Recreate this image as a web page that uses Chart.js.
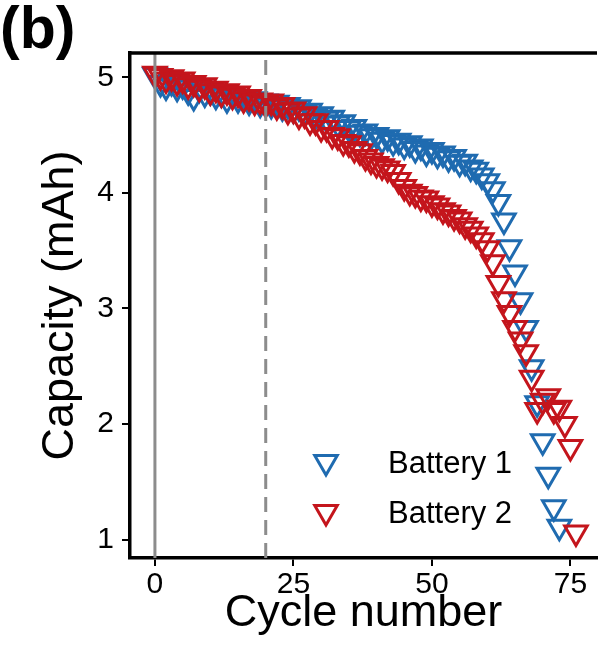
<!DOCTYPE html>
<html>
<head>
<meta charset="utf-8">
<script src="https://cdn.jsdelivr.net/npm/chart.js@4.4.1/dist/chart.umd.min.js"></script>
<style>
  html, body { margin: 0; padding: 0; background: #fff; overflow: hidden; }
  #wrap { width: 613px; height: 661px; position: relative; }
  canvas { display: block; }
</style>
</head>
<body>
<div id="wrap"><canvas id="capChart"></canvas></div>
<script>
// Battery 1 (blue)
const cycles1 = [0, 1, 2, 3, 4, 5, 6, 7, 8, 9, 10, 11, 12, 13, 14, 15, 16, 17, 18, 19,
    20, 21, 22, 23, 24, 25, 26, 27, 28, 29, 30, 31, 32, 33, 34, 35, 36, 37, 38, 39,
    40, 41, 42, 43, 44, 45, 46, 47, 48, 49, 50, 51, 52, 53, 54, 55, 56, 57, 58, 59,
    60, 61, 62, 63, 64, 65, 66, 67, 68, 69, 70, 71, 72, 73];
const capacity1 = [5.02, 4.95, 4.92, 4.96, 4.91, 4.93, 4.88, 4.83, 4.90, 4.86,
    4.88, 4.84, 4.86, 4.81, 4.85, 4.81, 4.83, 4.79, 4.81, 4.77,
    4.79, 4.76, 4.78, 4.74, 4.76, 4.72, 4.74, 4.70, 4.71, 4.67,
    4.68, 4.64, 4.65, 4.60, 4.61, 4.56, 4.57, 4.52, 4.53, 4.49,
    4.50, 4.46, 4.48, 4.44, 4.45, 4.41, 4.43, 4.38, 4.40, 4.35,
    4.37, 4.33, 4.34, 4.30, 4.31, 4.26, 4.27, 4.22, 4.20, 4.15,
    4.10, 4.03, 3.92, 3.76, 3.53, 3.31, 3.07, 2.83, 2.49, 2.18,
    1.85, 1.56, 1.28, 1.11];

// Battery 2 (red)
const cycles2 = [0, 1, 2, 3, 4, 5, 6, 7, 8, 9, 10, 11, 12, 13, 14, 15, 16, 17, 18, 19,
    20, 21, 22, 23, 24, 25, 26, 27, 28, 29, 30, 31, 32, 33, 34, 35, 36, 37, 38, 39,
    40, 41, 42, 43, 44, 45, 46, 47, 48, 49, 50, 51, 52, 53, 54, 55, 56, 57, 58, 59,
    60, 61, 62, 63, 64, 65, 66, 67, 68, 69, 70, 71, 72, 73, 74, 75, 76];
const capacity2 = [5.03, 5.01, 4.98, 5.00, 4.96, 4.98, 4.93, 4.95, 4.91, 4.93,
    4.88, 4.90, 4.86, 4.88, 4.84, 4.86, 4.81, 4.83, 4.79, 4.80,
    4.77, 4.79, 4.75, 4.76, 4.71, 4.72, 4.67, 4.68, 4.62, 4.62,
    4.56, 4.56, 4.50, 4.49, 4.44, 4.43, 4.38, 4.36, 4.31, 4.28,
    4.25, 4.23, 4.21, 4.18, 4.11, 4.05, 4.01, 3.99, 3.96, 3.95,
    3.91, 3.89, 3.85, 3.83, 3.79, 3.77, 3.72, 3.69, 3.64, 3.59,
    3.52, 3.40, 3.22, 3.08, 2.96, 2.83, 2.73, 2.62, 2.40, 2.12,
    2.20, 2.24, 2.12, 2.14, 2.00, 1.80, 1.06];

const xTicks = [0, 25, 50, 75];
const yTicks = [1, 2, 3, 4, 5];
const seriesLabels = ['Battery 1', 'Battery 2'];
const markers = [0, 20]; // solid line, dashed line

const xMin = -4.5, xMax = 79.8;
const yMin = 0.84, yMax = 5.21;

const blue = '#1f6bb0';
const red = '#c4151c';
const gray = '#8c8c8c';
const fontFamily = '"Liberation Sans", Arial, sans-serif';

const toPoints = (xs, ys) => xs.map((x, i) => ({ x: x, y: ys[i] }));

// frame top line, panel tag and legend inside the plot
const extras = {
    id: 'extras',
    afterDraw(chart) {
        const { ctx, chartArea } = chart;
        ctx.save();
        ctx.strokeStyle = '#000';
        ctx.lineWidth = 3.5;
        ctx.beginPath();
        ctx.moveTo(chartArea.left - 1.75, chartArea.top);
        ctx.lineTo(chartArea.right, chartArea.top);
        ctx.stroke();

        ctx.fillStyle = '#000';
        ctx.font = 'bold 59px ' + fontFamily;
        ctx.textBaseline = 'alphabetic';
        ctx.fillText('(b)', 0, 48);

        const rows = [[blue, 462], [red, 512]];
        rows.forEach(([color, y], i) => {
            const cx = 326, r = 13;
            ctx.strokeStyle = color;
            ctx.lineWidth = 3;
            ctx.beginPath();
            ctx.moveTo(cx, y + r);
            ctx.lineTo(cx - r * Math.sin(Math.PI / 3), y - r / 2);
            ctx.lineTo(cx + r * Math.sin(Math.PI / 3), y - r / 2);
            ctx.closePath();
            ctx.stroke();
            ctx.fillStyle = '#000';
            ctx.font = '31px ' + fontFamily;
            ctx.textBaseline = 'middle';
            ctx.fillText(seriesLabels[i], 388, y + 2);
        });
        ctx.restore();
    }
};

const ctx = document.getElementById('capChart').getContext('2d');

new Chart(ctx, {
    type: 'scatter',
    data: {
        datasets: [
            {
                label: seriesLabels[0],
                data: toPoints(cycles1, capacity1),
                pointStyle: 'triangle',
                rotation: 180,
                pointRadius: 13,
                pointBorderWidth: 3,
                pointBorderColor: blue,
                pointBackgroundColor: 'rgba(0,0,0,0)',
                order: 3
            },
            {
                label: seriesLabels[1],
                data: toPoints(cycles2, capacity2),
                pointStyle: 'triangle',
                rotation: 180,
                pointRadius: 13,
                pointBorderWidth: 3,
                pointBorderColor: red,
                pointBackgroundColor: 'rgba(0,0,0,0)',
                order: 2
            },
            {
                type: 'line',
                data: [{ x: markers[0], y: yMin }, { x: markers[0], y: yMax }],
                borderColor: gray,
                borderWidth: 3,
                pointRadius: 0,
                order: 1
            },
            {
                type: 'line',
                data: [{ x: markers[1], y: yMin }, { x: markers[1], y: yMax }],
                borderColor: gray,
                borderWidth: 3,
                borderDash: [15, 8],
                pointRadius: 0,
                order: 1
            }
        ]
    },
    options: {
        responsive: true,
        maintainAspectRatio: false,
        animation: false,
        layout: { padding: { top: 53, left: 0, right: 0, bottom: 0 } },
        plugins: {
            legend: { display: false },
            tooltip: { enabled: false }
        },
        scales: {
            x: {
                type: 'linear',
                min: xMin,
                max: xMax,
                afterBuildTicks: (scale) => { scale.ticks = xTicks.map(v => ({ value: v })); },
                afterFit: (scale) => {
                    scale.height = 103;
                    scale.paddingLeft = 0;
                    scale.paddingRight = 0;
                },
                grid: { drawOnChartArea: false, drawTicks: true, tickLength: 8, color: '#000', lineWidth: 2 },
                border: { display: true, color: '#000', width: 3.5 },
                ticks: { color: '#000', font: { family: fontFamily, size: 30 }, padding: 1, maxRotation: 0 },
                title: {
                    display: true,
                    text: 'Cycle number',
                    color: '#000',
                    font: { family: fontFamily, size: 45 },
                    padding: { top: 0, bottom: 20 }
                }
            },
            y: {
                type: 'linear',
                min: yMin,
                max: yMax,
                afterBuildTicks: (scale) => { scale.ticks = yTicks.map(v => ({ value: v })); },
                afterFit: (scale) => {
                    scale.width = 130;
                    scale.paddingTop = 0;
                    scale.paddingBottom = 0;
                },
                grid: { drawOnChartArea: false, drawTicks: true, tickLength: 8, color: '#000', lineWidth: 2 },
                border: { display: true, color: '#000', width: 3.5 },
                ticks: { color: '#000', font: { family: fontFamily, size: 30 }, padding: 8 },
                title: {
                    display: true,
                    text: 'Capacity (mAh)',
                    color: '#000',
                    font: { family: fontFamily, size: 45 },
                    padding: { top: 34, bottom: 0 }
                }
            }
        }
    },
    plugins: [extras]
});
</script>
</body>
</html>
